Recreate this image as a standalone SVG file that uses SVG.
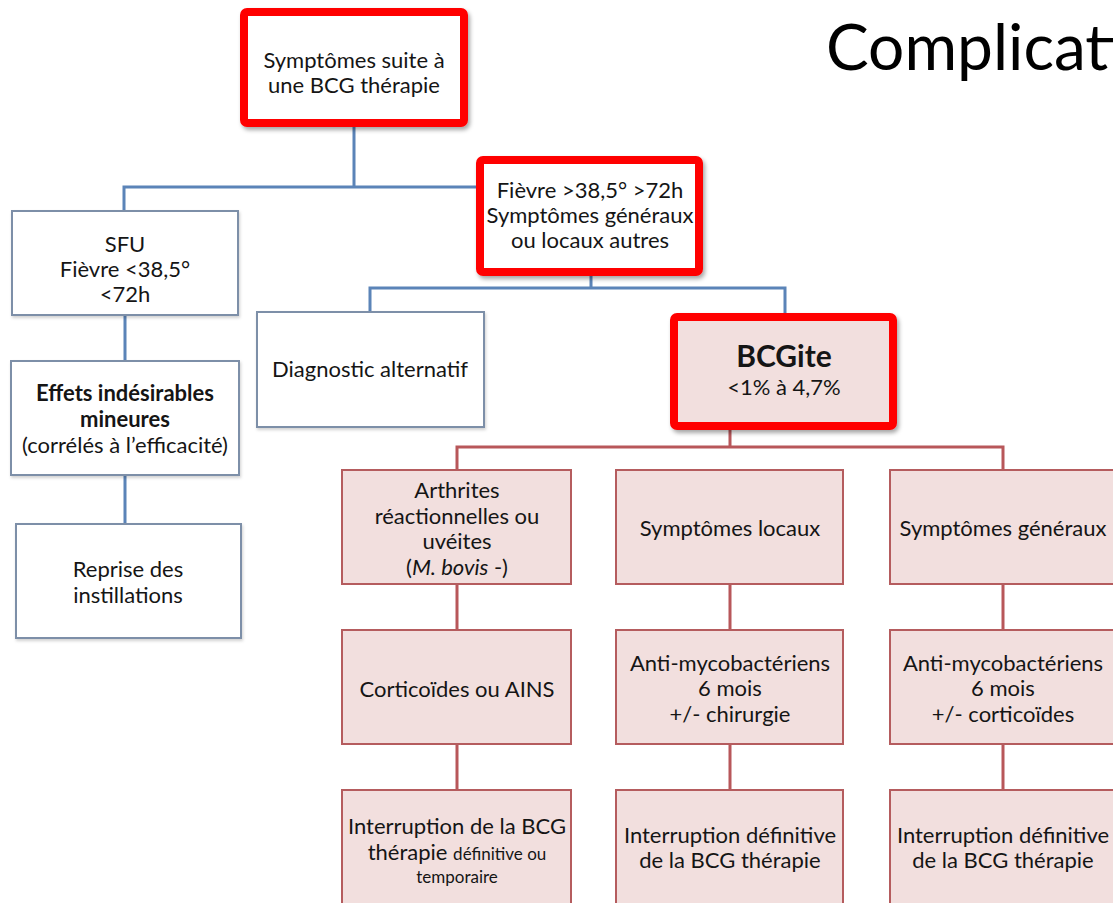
<svg xmlns="http://www.w3.org/2000/svg" width="1113" height="903" viewBox="0 0 1113 903">
<defs>
<filter id="sh" x="-10%" y="-10%" width="125%" height="130%">
<feDropShadow dx="2" dy="3" stdDeviation="2" flood-color="#000" flood-opacity="0.35"/>
</filter>
<filter id="sh2" x="-10%" y="-10%" width="125%" height="130%">
<feDropShadow dx="1" dy="2" stdDeviation="1.5" flood-color="#000" flood-opacity="0.18"/>
</filter>
</defs>
<style>
text{font-family:Lato,"Liberation Sans",sans-serif;font-size:22px;fill:#151515;text-anchor:middle}
.b{font-weight:bold}
.sm{font-size:17px}
.wbox{fill:#fff;stroke:#7d8fa8;stroke-width:2}
.pbox{fill:#f2dfde;stroke:#b55c5e;stroke-width:2}
.red{stroke:#ff0000;stroke-width:8}
.cb{fill:none;stroke:#5b84b8;stroke-width:3}
.cp{fill:none;stroke:#b8575a;stroke-width:3}
</style>
<rect width="1113" height="903" fill="#fff"/>
<text x="826" y="70" style="font-size:64px;text-anchor:start;fill:#000">Complications</text>
<g id="connectors">
<path class="cb" d="M354 127V187M124 211V187H478M125 315V361M125 475V524M591 276V288M370 312V288H785V313"/>
<path class="cp" d="M730 430V447M457 470V447H1003V470M457 584V630M730 584V630M1003 584V630M457 744V790M730 744V790M1003 744V790"/>
</g>
<g id="n-top">
<rect class="wbox red" x="244" y="12" width="220" height="111" rx="3" filter="url(#sh)"/>
<text x="354" y="68">Symptômes suite à</text>
<text x="354" y="93">une BCG thérapie</text>
</g>
<g id="n-fievre">
<rect class="wbox red" x="480" y="160" width="219" height="112" rx="3" filter="url(#sh)"/>
<text x="590" y="198">Fièvre &gt;38,5° &gt;72h</text>
<text x="590" y="223">Symptômes généraux</text>
<text x="590" y="248">ou locaux autres</text>
</g>
<g id="n-sfu">
<rect class="wbox" x="12" y="211" width="226" height="104" filter="url(#sh2)"/>
<text x="125" y="252">SFU</text>
<text x="125" y="277">Fièvre &lt;38,5°</text>
<text x="125" y="302">&lt;72h</text>
</g>
<g id="n-effets">
<rect class="wbox" x="11" y="361" width="228" height="114" filter="url(#sh2)"/>
<text x="125" y="401" class="b">Effets indésirables</text>
<text x="125" y="427" class="b">mineures</text>
<text x="125" y="453">(corrélés à l’efficacité)</text>
</g>
<g id="n-reprise">
<rect class="wbox" x="16" y="524" width="225" height="114" filter="url(#sh2)"/>
<text x="128" y="577">Reprise des</text>
<text x="128" y="603">instillations</text>
</g>
<g id="n-diag">
<rect class="wbox" x="257" y="312" width="227" height="115" filter="url(#sh2)"/>
<text x="370" y="377">Diagnostic alternatif</text>
</g>
<g id="n-bcgite">
<rect class="pbox red" x="674" y="317" width="219" height="109" rx="3" filter="url(#sh)"/>
<text x="784" y="367" class="b" style="font-size:30px">BCGite</text>
<text x="784" y="395">&lt;1% à 4,7%</text>
</g>
<g id="n-arthrites">
<rect class="pbox" x="342" y="470" width="229" height="114"/>
<text x="457" y="498">Arthrites</text>
<text x="457" y="524">réactionnelles ou</text>
<text x="457" y="549">uvéites</text>
<text x="457" y="575">(<tspan font-style="italic">M. bovis</tspan> -)</text>
</g>
<g id="n-symloc">
<rect class="pbox" x="616" y="470" width="227" height="114"/>
<text x="730" y="536">Symptômes locaux</text>
</g>
<g id="n-symgen">
<rect class="pbox" x="890" y="470" width="230" height="114"/>
<text x="1003" y="536">Symptômes généraux</text>
</g>
<g id="n-cortico">
<rect class="pbox" x="342" y="630" width="229" height="114"/>
<text x="457" y="697">Corticoïdes ou AINS</text>
</g>
<g id="n-antimyco1">
<rect class="pbox" x="616" y="630" width="227" height="114"/>
<text x="730" y="671">Anti-mycobactériens</text>
<text x="730" y="696">6 mois</text>
<text x="730" y="722">+/- chirurgie</text>
</g>
<g id="n-antimyco2">
<rect class="pbox" x="890" y="630" width="230" height="114"/>
<text x="1003" y="671">Anti-mycobactériens</text>
<text x="1003" y="696">6 mois</text>
<text x="1003" y="722">+/- corticoïdes</text>
</g>
<g id="n-interrupt1">
<rect class="pbox" x="342" y="790" width="229" height="120"/>
<text x="457" y="834">Interruption de la BCG</text>
<text x="457" y="860">thérapie <tspan class="sm">définitive ou</tspan></text>
<text x="457" y="883" class="sm">temporaire</text>
</g>
<g id="n-interrupt2">
<rect class="pbox" x="616" y="790" width="227" height="120"/>
<text x="730" y="843">Interruption définitive</text>
<text x="730" y="868">de la BCG thérapie</text>
</g>
<g id="n-interrupt3">
<rect class="pbox" x="890" y="790" width="230" height="120"/>
<text x="1003" y="843">Interruption définitive</text>
<text x="1003" y="868">de la BCG thérapie</text>
</g>
</svg>
